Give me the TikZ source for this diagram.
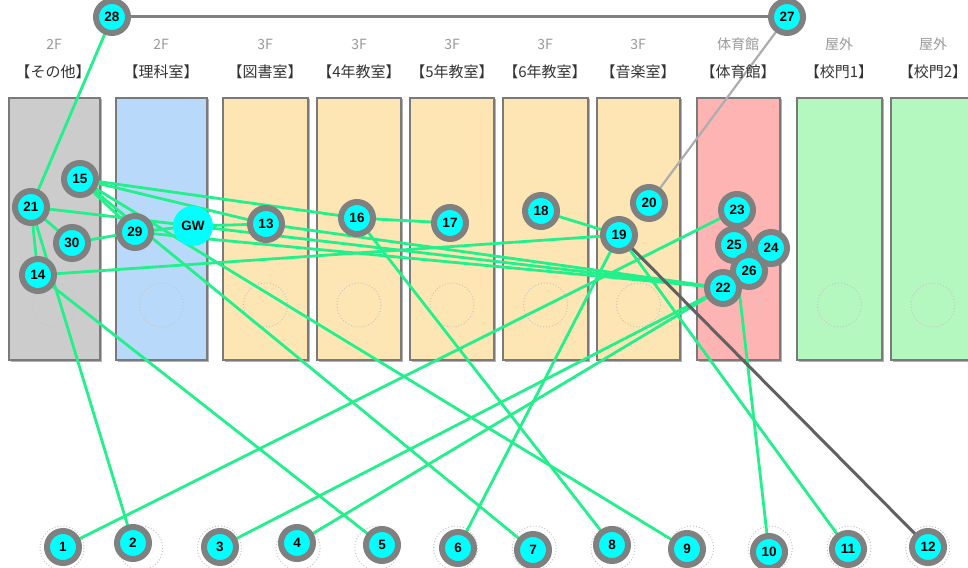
\documentclass[tikz,border=0pt]{standalone}
\usepackage{fontspec}
\setmainfont{Liberation Sans}
\newfontfamily\jpfont{Noto Sans CJK JP}
\definecolor{edgegreen}{HTML}{22F08A}
\definecolor{nodecyan}{HTML}{00FFFF}
\definecolor{ringgray}{HTML}{808080}
\definecolor{boxgray}{HTML}{7A7A7A}
\definecolor{cgray}{HTML}{CCCCCC}
\definecolor{cblue}{HTML}{B8D9FA}
\definecolor{cbeige}{HTML}{FDE6B4}
\definecolor{cpink}{HTML}{FFB4B4}
\definecolor{cgreen}{HTML}{B4F8C0}
\definecolor{floorgray}{HTML}{9A9A9A}
\definecolor{roomtext}{HTML}{333333}
\pgfdeclarelayer{bg}
\pgfdeclarelayer{edges}
\pgfsetlayers{bg,edges,main}
\begin{document}
\begin{tikzpicture}[x=1pt,y=-1pt,
  nd/.style={circle,fill=nodecyan,draw=ringgray,line width=6pt,minimum size=32pt,inner sep=0pt,font=\bfseries\fontsize{13.5}{13.5}\selectfont},
  gwnode/.style={circle,fill=nodecyan,minimum size=40pt,inner sep=0pt,font=\bfseries\fontsize{13.5}{13.5}\selectfont},
  roombox/.style={draw=boxgray,line width=1.2pt},
  floorlab/.style={text=floorgray,font=\jpfont\fontsize{14}{14}\selectfont,inner sep=0pt},
  roomlab/.style={text=roomtext,font=\jpfont\fontsize{15}{15}\selectfont,inner sep=0pt},
  ge/.style={draw=edgegreen,line width=2.8pt},
  grayedge/.style={draw=ringgray,line width=3pt},
  lightedge/.style={draw=black!32,line width=2.2pt},
  darkedge/.style={draw=black!62,line width=3pt},
  dotc/.style={draw=black!22,dotted,line width=1pt}
]
\useasboundingbox (0,0) rectangle (968,567);
\begin{pgfonlayer}{bg}
\fill[white] (0,0) rectangle (968,567);
% room boxes
\foreach \xa/\xb/\col in {9/100/cgray,116/207/cblue,223/308/cbeige,317/401/cbeige,410/494/cbeige,503/588/cbeige,597/680/cbeige,697/780/cpink,797/882/cgreen,891/975/cgreen}{
  \fill[black!30] (\xa+1.5,99.5) rectangle (\xb+1.5,361.5);
  \filldraw[roombox,fill=\col] (\xa,98) rectangle (\xb,360);
  \draw[dotc] ({(\xa+\xb)/2},305) circle (22);
}
% bottom dotted circles
\foreach \i in {0,...,11}{
  \draw[dotc] ({62+78.7*\i},548) circle (22);
}
\end{pgfonlayer}

% labels
\node[floorlab] (f1) at (54,44) {2F};
\node[floorlab] (f2) at (161,44) {2F};
\node[floorlab] (f3) at (265,44) {3F};
\node[floorlab] (f4) at (359,44) {3F};
\node[floorlab] (f5) at (452,44) {3F};
\node[floorlab] (f6) at (545,44) {3F};
\node[floorlab] (f7) at (638,44) {3F};
\node[floorlab] (f8) at (738,44) {体育館};
\node[floorlab] (f9) at (839,44) {屋外};
\node[floorlab] (f10) at (933,44) {屋外};
\node[roomlab] (r1) at (53,72) {【その他】};
\node[roomlab] (r2) at (161,72) {【理科室】};
\node[roomlab] (r3) at (265,72) {【図書室】};
\node[roomlab] (r4) at (359,72) {【4年教室】};
\node[roomlab] (r5) at (452,72) {【5年教室】};
\node[roomlab] (r6) at (545,72) {【6年教室】};
\node[roomlab] (r7) at (638,72) {【音楽室】};
\node[roomlab] (r8) at (738,72) {【体育館】};
\node[roomlab] (r9) at (839,72) {【校門1】};
\node[roomlab] (r10) at (933,72) {【校門2】};

% nodes
\node[nd] (n28) at (112,17) {28};
\node[nd] (n27) at (787,17) {27};
\node[nd] (n15) at (80,179) {15};
\node[nd] (n21) at (31,207) {21};
\node[nd] (n30) at (72,243) {30};
\node[nd] (n29) at (135,232) {29};
\node[gwnode] (gw) at (193,226) {GW};
\node[nd] (n13) at (266,224) {13};
\node[nd] (n14) at (38,275) {14};
\node[nd] (n16) at (357,218) {16};
\node[nd] (n17) at (450,223) {17};
\node[nd] (n18) at (541,211) {18};
\node[nd] (n19) at (619,235) {19};
\node[nd] (n20) at (649,203) {20};
\node[nd] (n23) at (737,210) {23};
\node[nd] (n24) at (771,248) {24};
\node[nd] (n25) at (734,245) {25};
\node[nd] (n26) at (749,271) {26};
\node[nd] (n22) at (723,288) {22};
\node[nd] (n1) at (63,547) {1};
\node[nd] (n2) at (133,543) {2};
\node[nd] (n3) at (220,547) {3};
\node[nd] (n4) at (297,543) {4};
\node[nd] (n5) at (382,545) {5};
\node[nd] (n6) at (458,548) {6};
\node[nd] (n7) at (533,550) {7};
\node[nd] (n8) at (612,545) {8};
\node[nd] (n9) at (687,549) {9};
\node[nd] (n10) at (769,552) {10};
\node[nd] (n11) at (848,549) {11};
\node[nd] (n12) at (928,547) {12};

\begin{pgfonlayer}{edges}
\draw[grayedge] (n28.center) -- (n27.center);
\draw[lightedge] (n27.center) -- (n20.center);
\draw[ge] (n28.center) -- (n21.center);
\draw[ge] (n21.center) -- (n14.center);
\draw[ge] (n21.center) -- (n2.center);
\draw[ge] (n21.center) -- (n30.center);
\draw[ge] (n21.center) -- (n22.center);
\draw[ge] (n14.center) -- (n5.center);
\draw[ge] (n14.center) -- (n19.center);
\draw[ge] (n15.center) -- (n16.center);
\draw[ge] (n15.center) -- (n13.center);
\draw[ge] (n15.center) -- (n29.center);
\draw[ge] (n15.center) -- (n7.center);
\draw[ge] (n15.center) -- (n9.center);
\draw[ge] (n30.center) -- (n29.center);
\draw[ge] (n29.center) -- (gw.center);
\draw[ge] (gw.center) -- (n13.center);
\draw[ge] (n29.center) -- (n22.center);
\draw[ge] (n13.center) -- (n22.center);
\draw[ge] (n16.center) -- (n17.center);
\draw[ge] (n16.center) -- (n8.center);
\draw[ge] (n18.center) -- (n19.center);
\draw[ge] (n19.center) -- (n6.center);
\draw[ge] (n19.center) -- (n11.center);
\draw[ge] (n23.center) -- (n1.center);
\draw[ge] (n22.center) -- (n3.center);
\draw[ge] (n22.center) -- (n4.center);
\draw[ge] (n25.center) -- (n10.center);
\draw[darkedge] (n19.center) -- (n12.center);
\end{pgfonlayer}
\end{tikzpicture}
\end{document}
